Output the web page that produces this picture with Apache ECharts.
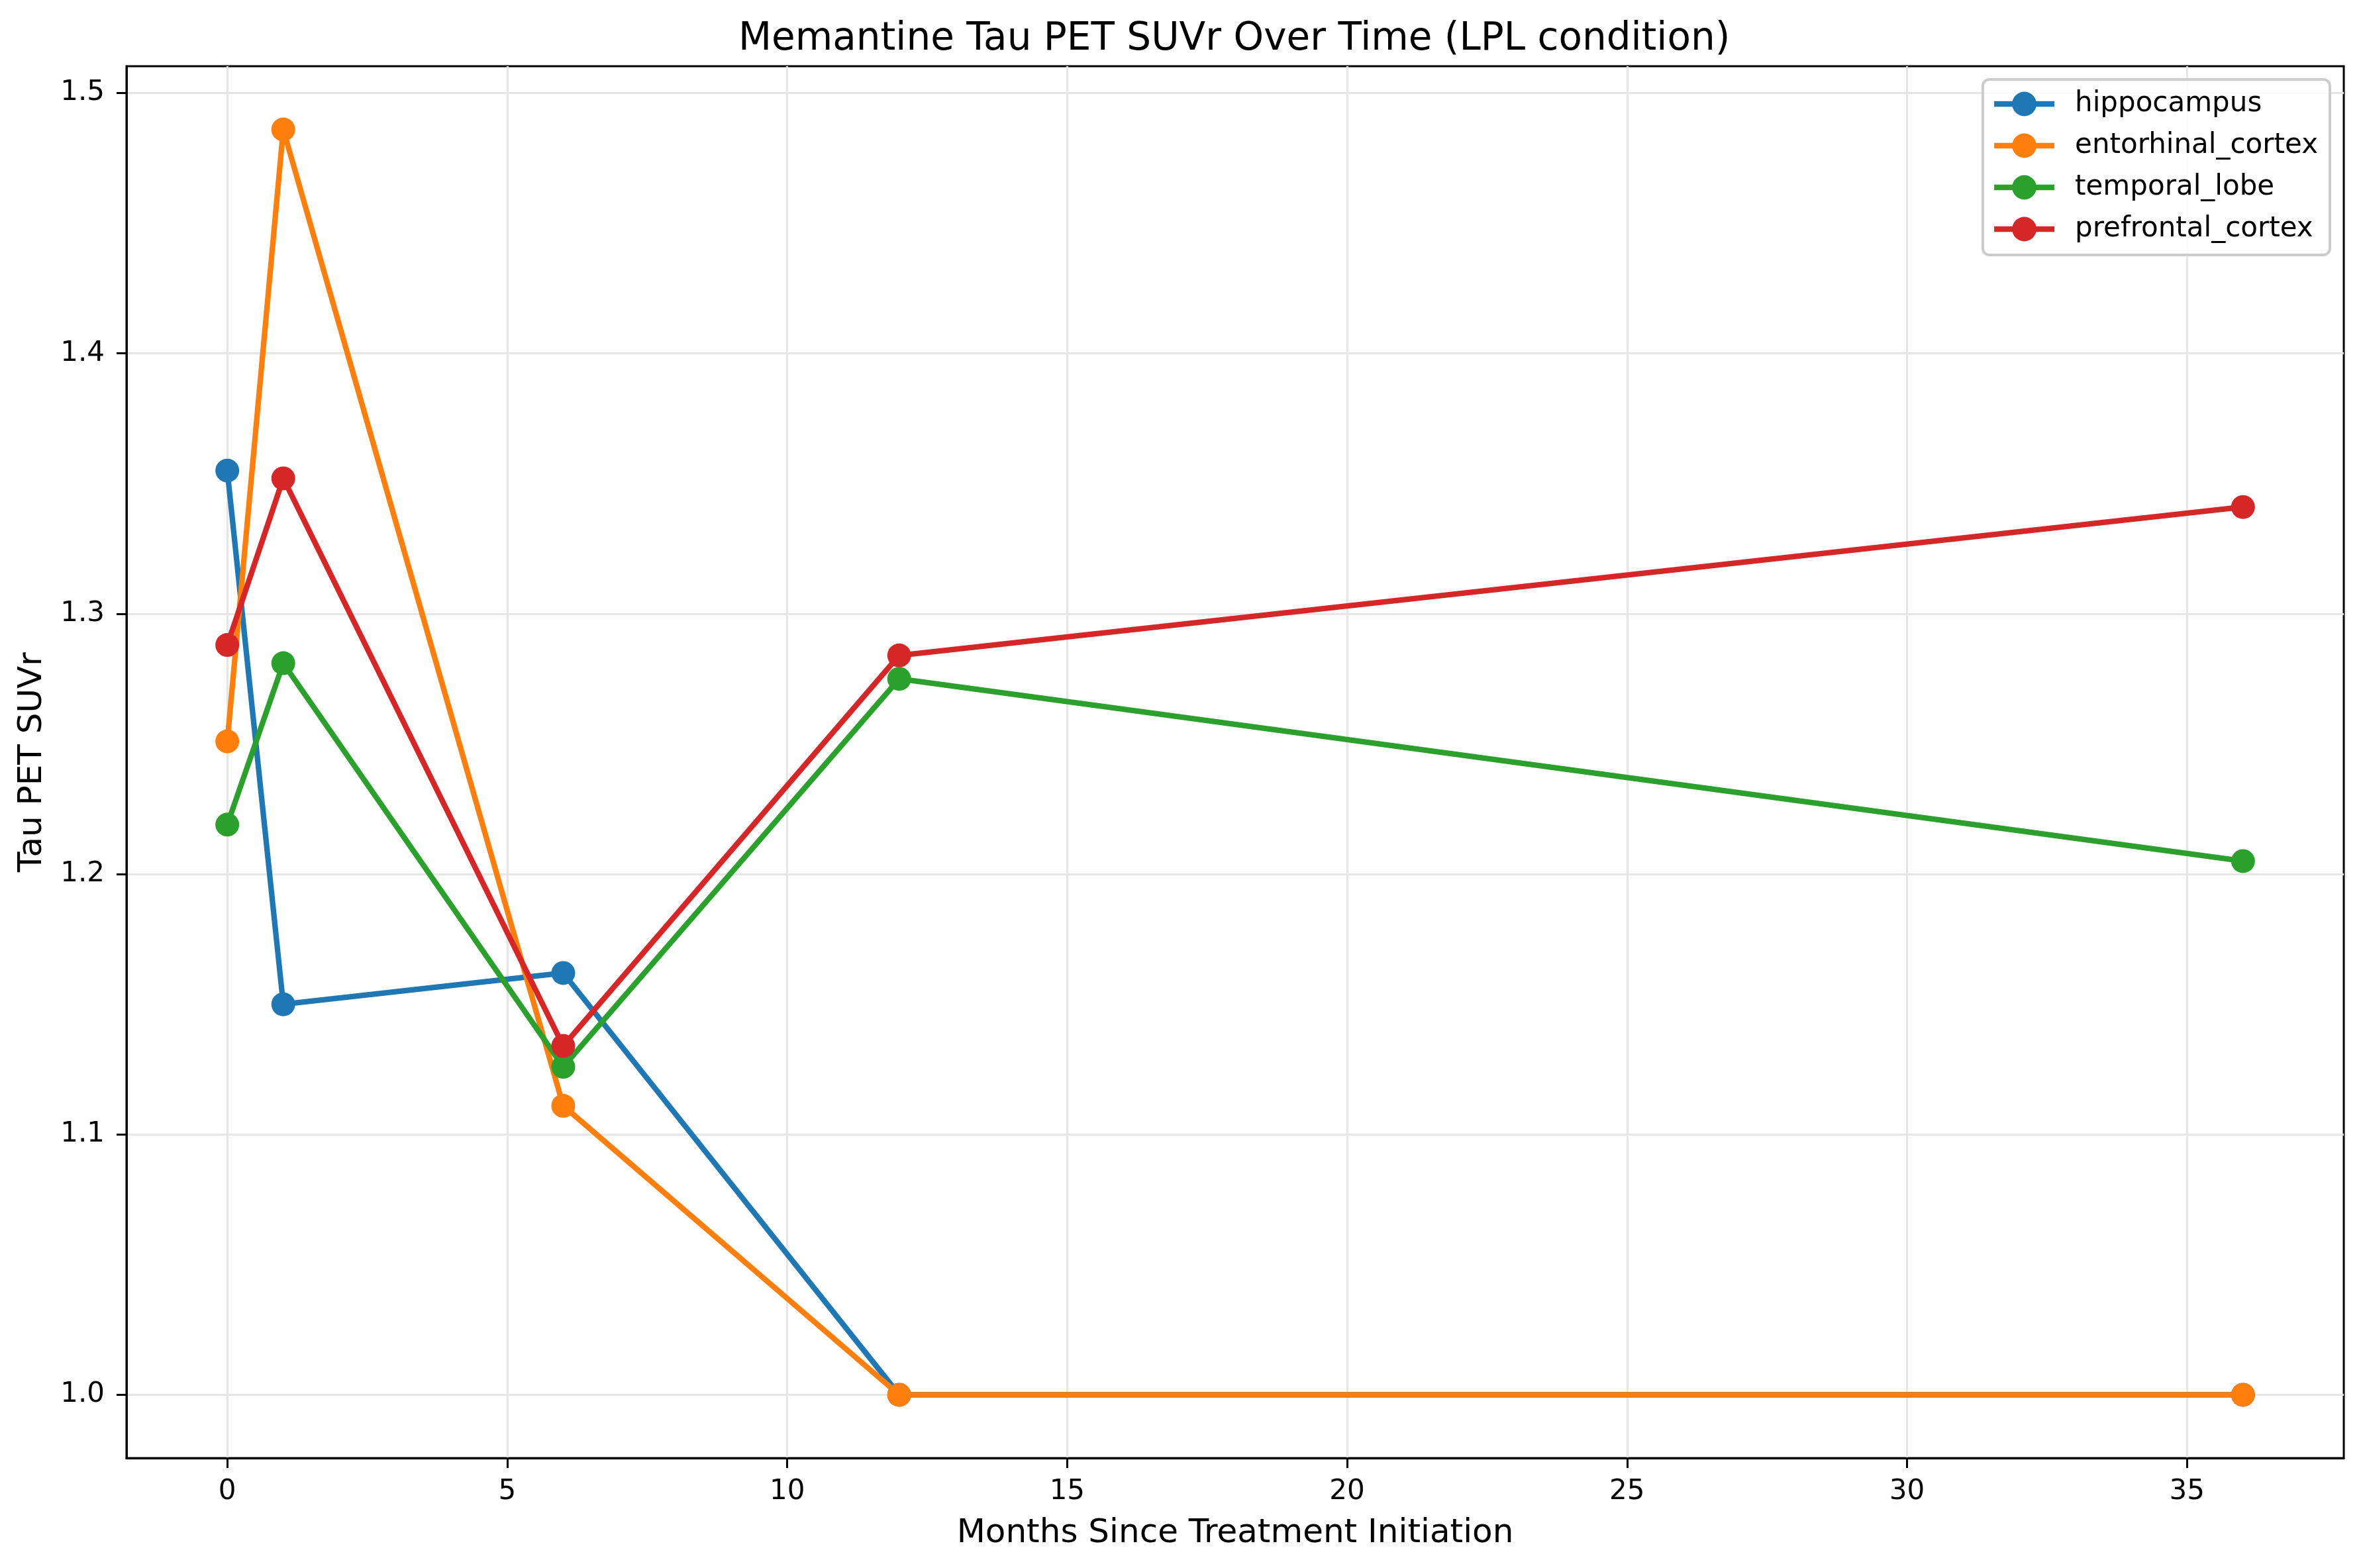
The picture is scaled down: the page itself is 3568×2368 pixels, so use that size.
<!DOCTYPE html>
<html>
<head>
<meta charset="utf-8">
<title>Memantine Tau PET SUVr Over Time</title>
<script src="https://cdn.jsdelivr.net/npm/echarts@6.0.0/dist/echarts.min.js"></script>
<style>
  html, body { margin: 0; padding: 0; background: #fff; }
  #chart { width: 3568px; height: 2368px; }
</style>
</head>
<body>
<div id="chart"></div>
<script>
// data
var months = [0, 1, 6, 12, 36];
var regions = ['hippocampus', 'entorhinal_cortex', 'temporal_lobe', 'prefrontal_cortex'];
var hippocampus = [1.355, 1.150, 1.162, 1.000, 1.000];
var entorhinal = [1.251, 1.486, 1.111, 1.000, 1.000];
var temporal = [1.219, 1.281, 1.126, 1.275, 1.205];
var prefrontal = [1.288, 1.352, 1.134, 1.284, 1.341];
var xTicks = [0, 5, 10, 15, 20, 25, 30, 35];
var yTicks = [1.0, 1.1, 1.2, 1.3, 1.4, 1.5];
var colors = ['#1f77b4', '#ff7f0e', '#2ca02c', '#d62728'];

var font = 'DejaVu Sans';

function pairs(vals) {
    return months.map(function (m, i) {
        return [m, vals[i]];
    });
}

var allVals = [hippocampus, entorhinal, temporal, prefrontal];

var series = regions.map(function (name, i) {
    return {
        name: name,
        type: 'line',
        data: pairs(allVals[i]),
        symbol: 'circle',
        symbolSize: 36,
        showAllSymbol: true,
        lineStyle: { width: 8.3, color: colors[i] },
        itemStyle: { color: colors[i], borderWidth: 0 },
        emphasis: { disabled: true }
    };
});

var chart = echarts.init(document.getElementById('chart'));

var axisLineStyle = { color: '#000', width: 3 };

var option = {
    animation: false,
    backgroundColor: '#fff',
    color: colors,
    title: {
        text: 'Memantine Tau PET SUVr Over Time (LPL condition)',
        left: 1115,
        top: 31,
        padding: 0,
        textStyle: { fontFamily: font, fontSize: 58, fontWeight: 'normal', color: '#000' }
    },
    legend: {
        orient: 'vertical',
        right: 50,
        top: 120,
        align: 'left',
        padding: [16, 18, 18, 13],
        itemWidth: 91,
        itemHeight: 46,
        itemGap: 21,
        backgroundColor: 'rgba(255,255,255,0.8)',
        borderColor: '#cccccc',
        borderWidth: 4,
        borderRadius: 10,
        lineStyle: { width: 8.3 },
        textStyle: { fontFamily: font, fontSize: 42, color: '#000', padding: [0, 0, 0, 26] },
        data: regions
    },
    grid: {
        left: 191,
        right: 29,
        top: 100,
        bottom: 166,
        outerBoundsMode: 'none',
        show: true,
        borderColor: '#000',
        borderWidth: 3
    },
    xAxis: {
        type: 'value',
        min: -1.8,
        max: 37.8,
        name: 'Months Since Treatment Initiation',
        nameLocation: 'middle',
        nameGap: 89,
        nameTextStyle: { fontFamily: font, fontSize: 50, color: '#000' },
        axisLine: { show: true, onZero: false, lineStyle: axisLineStyle },
        axisTick: { show: true, length: 15, customValues: xTicks, lineStyle: axisLineStyle },
        axisLabel: {
            customValues: xTicks,
            margin: 30,
            fontFamily: font,
            fontSize: 42,
            color: '#000'
        },
        splitLine: { show: true, lineStyle: { color: '#e6e6e6', width: 3 } }
    },
    yAxis: {
        type: 'value',
        min: 0.9757,
        max: 1.5103,
        name: 'Tau PET SUVr',
        nameLocation: 'middle',
        nameGap: 117,
        nameTextStyle: { fontFamily: font, fontSize: 50, color: '#000' },
        axisLine: { show: true, onZero: false, lineStyle: axisLineStyle },
        axisTick: { show: true, length: 15, customValues: yTicks, lineStyle: axisLineStyle },
        axisLabel: {
            customValues: yTicks,
            margin: 33,
            fontFamily: font,
            fontSize: 42,
            color: '#000',
            formatter: function (v) { return v.toFixed(1); }
        },
        splitLine: { show: true, lineStyle: { color: '#e6e6e6', width: 3 } }
    },
    series: series
};

chart.setOption(option);
</script>
</body>
</html>
